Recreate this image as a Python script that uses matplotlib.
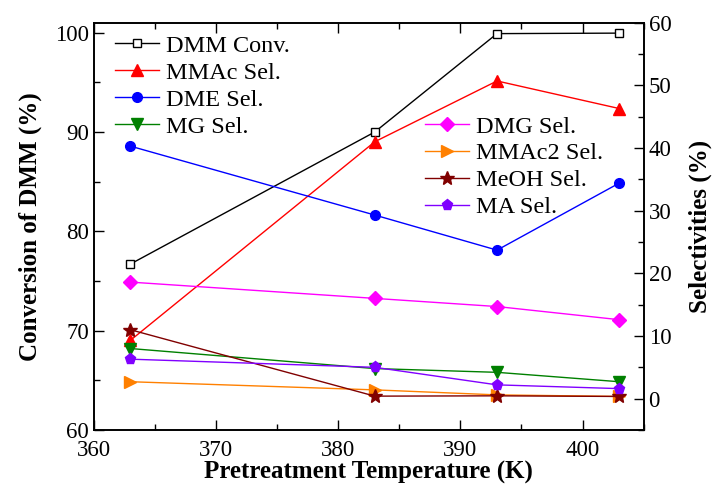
import matplotlib
matplotlib.use("Agg")
import matplotlib.pyplot as plt
from matplotlib.ticker import MultipleLocator

plt.rcParams['font.family'] = ['Liberation Serif', 'DejaVu Serif']

temps = [363, 383, 393, 403]

# left axis
dmm_conv = [76.7, 90.0, 99.9, 99.95]

# right axis (selectivities, %)
mmac_sel = [9.3, 41.0, 50.7, 46.3]
dme_sel = [40.3, 29.3, 23.7, 34.4]
mg_sel = [8.0, 4.8, 4.2, 2.7]
dmg_sel = [18.6, 16.0, 14.7, 12.6]
mmac2_sel = [2.7, 1.4, 0.6, 0.35]
meoh_sel = [11.0, 0.4, 0.45, 0.35]
ma_sel = [6.3, 5.0, 2.2, 1.6]

fig = plt.figure(figsize=(7.18, 4.88), dpi=100)
ax = fig.add_axes([0.1305, 0.1189, 0.766, 0.8346])
ax2 = ax.twinx()

l1, = ax.plot(temps, dmm_conv, color='black', lw=1, marker='s', ms=6,
              mfc='white', mec='black', mew=1, label='DMM Conv.')
l2, = ax2.plot(temps, mmac_sel, color='#FF0000', lw=1, marker='^', ms=9, label='MMAc Sel.')
l3, = ax2.plot(temps, dme_sel, color='#0000FF', lw=1, marker='o', ms=7, label='DME Sel.')
l4, = ax2.plot(temps, mg_sel, color='#008000', lw=1, marker='v', ms=9, label='MG Sel.')
l5, = ax2.plot(temps, dmg_sel, color='#FF00FF', lw=1, marker='D', ms=7, label='DMG Sel.')
l6, = ax2.plot(temps, mmac2_sel, color='#FF8000', lw=1, marker='>', ms=9, label='MMAc2 Sel.')
l7, = ax2.plot(temps, meoh_sel, color='#800000', lw=1, marker='*', ms=10, label='MeOH Sel.')
l8, = ax2.plot(temps, ma_sel, color='#8000FF', lw=1, marker='p', ms=8, label='MA Sel.')

ax.set_xlim(360, 405)
ax.set_ylim(60, 101)
ax2.set_ylim(-5, 60)

ax.xaxis.set_major_locator(MultipleLocator(10))
ax.xaxis.set_minor_locator(MultipleLocator(5))
ax.yaxis.set_minor_locator(MultipleLocator(5))
ax2.yaxis.set_minor_locator(MultipleLocator(5))
ax.set_yticks([60, 70, 80, 90, 100])
ax2.set_yticks([0, 10, 20, 30, 40, 50, 60])

ax.tick_params(which='both', direction='in', top=True, right=False, labelsize=16.5, width=1)
ax.tick_params(which='major', length=7)
ax.tick_params(which='minor', length=4)
ax.tick_params(axis='x', pad=7)
ax2.tick_params(which='both', direction='in', labelsize=16.5, width=1)
ax2.tick_params(which='major', length=7)
ax2.tick_params(which='minor', length=4)
for a in (ax, ax2):
    for s in a.spines.values():
        s.set_linewidth(1.2)

ax.set_xlabel('Pretreatment Temperature (K)', fontsize=18, fontweight='bold', labelpad=0)
ax.set_ylabel('Conversion of DMM (%)', fontsize=18, fontweight='bold', labelpad=9)
ax2.set_ylabel('Selectivities (%)', fontsize=18, fontweight='bold', labelpad=12)

leg1 = ax2.legend(handles=[l1, l2, l3, l4], loc='upper left', bbox_to_anchor=(0.039, 0.97),
                  frameon=False, fontsize=17.5, handlelength=1.8, handletextpad=0.3,
                  borderpad=0, borderaxespad=0, labelspacing=0.2)
ax2.add_artist(leg1)
ax2.legend(handles=[l5, l6, l7, l8], loc='upper left', bbox_to_anchor=(0.602, 0.772),
           frameon=False, fontsize=17.5, handlelength=1.8, handletextpad=0.3,
           borderpad=0, borderaxespad=0, labelspacing=0.2)

fig.savefig('out.png', dpi=100)
